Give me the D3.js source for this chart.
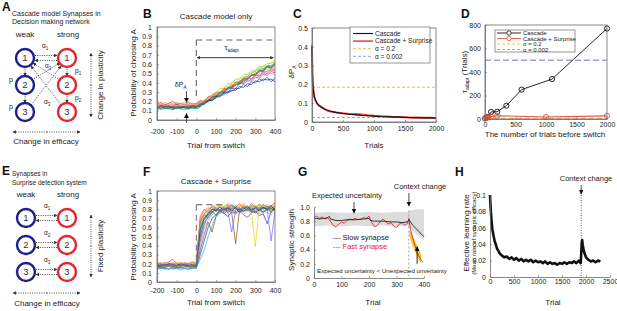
<!DOCTYPE html>
<html><head><meta charset="utf-8">
<script src="https://cdn.jsdelivr.net/npm/d3@7"></script>
<style>
body{margin:0;background:#fff}
svg{display:block;font-family:"Liberation Sans",Arial,sans-serif}
</style></head><body>
<svg id="c" width="617" height="311"></svg>
<script>
// ================= DATA =================
// Panels B & F: trial from switch (every 20 trials) and single-run P(choose A) in percent
const trialsBF = [-200,-180,-160,-140,-120,-100,-80,-60,-40,-20,0,20,40,60,80,100,120,140,160,180,200,220,240,260,280,300,320,340,360,380,400];
const bLines = [
 [17,19,16,18,20,17,18,16,19,17,18,21,20,25,26,30,29,34,33,38,37,42,41,45,44,48,47,51,50,54,53],
 [14,16,13,15,14,16,14,15,13,16,15,16,20,21,25,26,29,30,34,35,38,39,43,44,48,49,53,54,58,57,61],
 [13,15,12,14,13,12,14,13,12,14,13,17,17,21,21,24,27,27,31,31,34,34,38,36,41,40,44,42,46,41,45],
 [12,11,13,12,11,13,12,11,12,13,12,14,19,20,25,25,30,31,35,36,41,41,46,47,51,52,56,55,59,58,63],
 [16,14,17,15,16,17,15,17,16,15,17,19,20,24,24,29,29,33,33,36,37,40,40,45,44,49,48,52,52,55,55],
 [15,17,14,16,15,14,17,16,15,17,15,18,19,24,25,30,30,35,36,40,41,45,45,50,50,54,54,58,58,62,62],
 [13,14,13,12,15,13,14,15,14,13,14,15,19,20,24,25,29,29,34,34,38,39,43,43,48,48,52,52,57,56,60],
 [14,16,15,16,14,17,15,14,16,15,16,18,18,22,22,26,26,30,30,34,34,39,39,42,42,46,45,49,48,52,51],
 [18,16,19,17,18,19,17,19,18,17,18,20,20,24,25,29,29,33,34,38,38,42,43,47,47,51,51,55,54,57,57],
 [12,14,12,13,11,13,12,14,12,13,12,14,18,19,23,24,28,29,34,34,38,39,44,44,48,49,53,53,58,58,61],
 [16,18,15,16,17,15,18,17,16,18,16,19,19,23,24,28,28,32,32,37,37,41,41,45,45,48,47,51,50,50,49],
 [15,13,16,15,16,14,16,15,15,14,16,17,22,23,28,29,34,34,39,39,44,44,49,49,53,53,58,57,61,61,65],
 [14,12,15,14,13,14,13,14,13,15,14,17,17,21,21,25,25,29,29,32,32,36,35,39,38,42,41,44,43,44,41],
 [13,15,14,15,12,14,14,13,15,14,14,15,20,21,25,26,30,31,35,35,40,40,45,45,49,49,54,53,57,56,59]
];
const fLines = [
 [20,21,19,22,25,20,19,21,20,22,21,68,75,80,82,78,84,80,83,85,82,79,84,81,86,83,80,85,82,84,87],
 [18,19,20,18,19,20,19,18,20,19,18,55,70,76,79,82,78,80,77,81,84,80,78,82,79,83,81,77,80,82,79],
 [15,16,15,14,16,15,16,15,14,16,15,30,45,60,70,74,78,76,72,77,75,79,74,71,76,78,73,75,64,77,80],
 [14,15,14,15,14,15,13,15,14,15,16,25,35,50,62,72,76,79,82,80,83,78,81,84,80,82,79,83,81,78,82],
 [19,18,20,19,21,19,18,20,19,21,20,72,80,76,84,81,79,83,85,80,82,86,81,78,84,82,80,85,83,81,84],
 [22,20,21,19,20,22,21,20,19,21,22,60,72,78,75,80,83,79,82,77,80,84,79,82,78,39,84,80,82,82,80],
 [17,18,17,19,18,17,18,19,17,18,19,50,68,74,78,73,80,77,82,79,76,81,78,80,83,76,79,82,80,77,81],
 [18,17,19,18,17,18,19,17,18,17,18,65,74,70,77,81,78,82,79,84,81,78,83,80,77,82,85,81,79,83,80],
 [21,20,22,20,21,19,22,20,21,20,21,70,78,82,79,85,82,80,84,81,78,83,86,82,79,84,81,85,82,80,83],
 [16,15,16,17,15,16,15,16,17,15,16,45,62,72,76,80,77,81,79,83,80,77,82,79,81,78,82,80,83,79,81],
 [18,19,18,17,19,18,17,19,18,17,18,40,58,68,74,78,75,79,76,80,77,79,74,78,76,80,75,78,76,74,77],
 [20,19,21,20,19,21,20,19,20,21,20,62,74,79,83,80,85,82,87,84,81,86,83,80,84,82,86,83,85,82,86],
 [17,19,18,20,19,18,20,19,18,19,18,58,70,75,80,78,82,79,81,78,82,76,80,83,79,81,78,82,80,84,79],
 [16,17,16,18,17,16,17,18,16,17,17,35,52,66,55,72,78,75,79,76,42,80,77,81,78,76,80,77,79,81,78],
 [19,20,18,19,20,18,19,20,19,18,19,48,64,73,77,80,78,81,77,55,79,82,78,80,77,81,79,76,80,45,78]
];
const runColors = ["#e3262e","#2ca02c","#1f3fbf","#17becf","#d62ee0","#e6d200","#0b7a3a","#7b3294","#ff8c1a","#1a9e9e","#f781bf","#9bd42e","#0a2a8a","#8c510a","#6a6aff"];
const targetLevelB = 0.86, targetLevelF = 0.85;

// Panel C
const cTrials = [0,5,10,20,30,40,60,80,100,150,200,250,300,400,500,600,700,800,900,1000,1100,1200,1300,1400,1500,1600,1700,1800,1900,2000];
const cCascade = [.41,.30,.23,.17,.15,.13,.115,.10,.092,.078,.068,.062,.057,.050,.045,.041,.038,.035,.033,.031,.029,.028,.027,.026,.025,.024,.023,.022,.022,.021];
const cSurprise = [.40,.29,.22,.18,.15,.13,.11,.10,.09,.08,.07,.061,.056,.05,.046,.043,.042,.040,.036,.033,.031,.029,.026,.027,.025,.023,.024,.022,.023,.020];
const cAlpha02 = 0.185, cAlpha0002 = 0.024;

// Panel D
const dTrialsCascade = [0,25,50,100,200,350,600,1100,2000];
const dCascade = [5,10,18,60,62,113,250,340,770];
const dTrialsSurprise = [0,25,50,100,200,1000,2000];
const dSurprise = [5,10,15,20,28,17,27];
const dAlpha02 = 5, dAlpha0002 = 500;

// Panel G
const gBandX = [0,50,100,150,200,250,300,340,350,370,400];
const gBandHi = [.92,.93,.92,.92,.93,.92,.93,.93,.95,.97,.97];
const gBandLo = [.73,.74,.73,.74,.73,.74,.73,.74,.70,.62,.53];
const gSlowX = [0,10,20,30,40,50,55,60,80,100,120,150,180,200,205,220,250,280,300,320,340,345,360,380,400];
const gSlow = [.83,.84,.83,.84,.84,.85,.87,.83,.81,.81,.82,.82,.83,.84,.81,.80,.80,.79,.79,.78,.79,.82,.74,.66,.58];
const gFastX = [0,10,20,30,40,50,60,70,80,90,100,110,120,130,140,150,160,170,180,190,200,210,220,230,240,250,260,270,280,290,300,310,320,330,340,345,350,360,370,380,390,397];
const gFast = [.85,.87,.84,.86,.83,.85,.80,.74,.72,.76,.79,.77,.81,.83,.82,.84,.82,.83,.85,.84,.87,.78,.72,.74,.79,.83,.80,.76,.78,.73,.71,.76,.78,.74,.77,.84,.70,.55,.42,.32,.25,.22];
const gYellowX = [348,360,375,388];
const gYellowHi = [.66,.56,.44,.33];
const gYellowLo = [.60,.46,.32,.22];
const gContext = 345;

// Panel H
const hX = [0,10,20,30,40,50,75,100,125,150,175,200,250,300,350,400,450,500,550,600,650,700,750,800,850,900,950,1000,1050,1100,1150,1200,1250,1300,1350,1400,1450,1500,1550,1600,1650,1700,1750,1800,1850,1875,1890,1900,1910,1920,1930,1950,1975,2000,2050,2100,2150,2200,2250,2300];
const hY = [.100,.088,.078,.070,.064,.058,.050,.043,.039,.034,.032,.029,.026,.024,.025,.022,.024,.021,.023,.020,.022,.019,.021,.019,.021,.018,.020,.018,.019,.017,.019,.016,.018,.016,.017,.015,.017,.016,.018,.016,.018,.017,.019,.017,.020,.018,.017,.028,.040,.045,.040,.033,.028,.024,.021,.019,.020,.018,.020,.019];
const hContext = 1900;

// ================= DRAW =================
const svg = d3.select("#c");
const AX = "#6b6b6b";
const defs = svg.append("defs");
function marker(id, color, w){
  defs.append("marker").attr("id",id).attr("viewBox","0 0 10 10").attr("refX",9).attr("refY",5)
    .attr("markerUnits","userSpaceOnUse").attr("markerWidth",w).attr("markerHeight",w)
    .attr("orient","auto-start-reverse").append("path").attr("d","M0,0L10,5L0,10z").attr("fill",color);
}
marker("ah","#111",5); marker("ahs","#333",3.5);

function txt(g,x,y,s,o={}){
  const t=g.append("text").attr("x",x).attr("y",y).text(s)
    .attr("font-size",o.size||8).attr("fill",o.fill||"#222")
    .attr("text-anchor",o.anchor||"start");
  if(o.bold) t.attr("font-weight","bold");
  if(o.rot) t.attr("transform",`rotate(-90,${x},${y})`);
  return t;
}
function letter(s,x,y){ txt(svg,x,y,s,{size:12,bold:true,fill:"#111"}); }

function axes(x,y,o){
  const g=svg.append("g");
  const [x0,x1]=x.range(), [y0,y1]=y.range();
  if(o.box){
    g.append("rect").attr("x",x0).attr("y",y1).attr("width",x1-x0).attr("height",y0-y1)
      .attr("fill","none").attr("stroke",AX).attr("stroke-width",0.8);
  }
  const xa=d3.axisBottom(x).tickValues(o.xt).tickFormat(o.xf||(d=>d)).tickSizeInner(-2).tickSizeOuter(0).tickPadding(o.xp);
  const ya=d3.axisLeft(y).tickValues(o.yt).tickFormat(o.yf||(d=>d)).tickSizeInner(-2).tickSizeOuter(0).tickPadding(o.yp);
  const gx=g.append("g").attr("transform",`translate(0,${y0})`).call(xa);
  const gy=g.append("g").attr("transform",`translate(${x0},0)`).call(ya);
  [gx,gy].forEach(a=>{
    a.select(".domain").attr("stroke",AX).attr("stroke-width",0.8);
    a.selectAll(".tick line").attr("stroke",AX).attr("stroke-width",0.6);
    a.selectAll("text").attr("font-size",7).attr("fill","#222").attr("font-family",'"Liberation Sans",Arial,sans-serif');
  });
  return g;
}
function clip(id,x,y){
  defs.append("clipPath").attr("id",id).append("rect")
    .attr("x",x.range()[0]).attr("y",y.range()[1])
    .attr("width",x.range()[1]-x.range()[0]).attr("height",y.range()[0]-y.range()[1]);
}
function arrow(g,x1,y1,x2,y2,o={}){
  const l=g.append("line").attr("x1",x1).attr("y1",y1).attr("x2",x2).attr("y2",y2)
    .attr("stroke",o.color||"#222").attr("stroke-width",o.w||0.8)
    .attr("marker-end",`url(#${o.m||"ahs"})`);
  if(o.dash) l.attr("stroke-dasharray",o.dash);
  if(o.both) l.attr("marker-start",`url(#${o.m||"ahs"})`);
  return l;
}
const pct = d3.format(".1f");
const f01 = d=> d===0?"0":(d===1?"1":pct(d));

// ---------- Panel A ----------
(function(){
  const g=svg.append("g");
  letter("A",2,11);
  txt(g,12,16,"Cascade model Synapses in",{size:7});
  txt(g,12,24,"Decision making network",{size:7});
  txt(g,25,37,"weak",{anchor:"middle"});
  txt(g,68,37,"strong",{anchor:"middle"});
  const ys=[58,85,112];
  const dot="1,1.3";
  arrow(g,35,55.5,57,55.5,{dash:dot});
  arrow(g,57,60.5,35,60.5,{dash:dot});
  [[25,67,76],[25,94,103],[67,67,76],[67,94,103]].forEach(a=>arrow(g,a[0],a[1],a[0],a[2],{dash:dot}));
  arrow(g,60,80,33,63,{dash:dot});
  arrow(g,61,105,31,66,{dash:dot});
  arrow(g,32,80,60,63,{dash:dot});
  arrow(g,31,105,61,66,{dash:dot});
  ys.forEach((y,i)=>{
    [[25,"#1c1f8c"],[67,"#e3262e"]].forEach(([x,c])=>{
      g.append("circle").attr("cx",x).attr("cy",y).attr("r",9).attr("fill","#fff").attr("stroke",c).attr("stroke-width",2.4);
      txt(g,x,y+3.3,String(i+1),{size:9.5,anchor:"middle",fill:"#333"});
    });
  });
  const sub=(x,y,a,b)=>{const t=txt(g,x,y,a,{size:6.5}); t.append("tspan").attr("dy",1.5).attr("font-size",4.5).text(b);};
  sub(42,48,"α","1"); sub(45,68,"α","2"); sub(44,104,"α","3");
  txt(g,9,82,"p",{size:7}); txt(g,9,109,"p",{size:7});
  sub(75,73,"p","1"); sub(75,100,"p","2");
  arrow(g,91,85,91,53,{dash:dot});
  arrow(g,91,85,91,117,{dash:dot});
  txt(g,103,85,"Change in plasticity",{rot:true,anchor:"middle",size:8});
  arrow(g,47,132,13,132,{dash:dot});
  arrow(g,47,132,80,132,{dash:dot});
  txt(g,46,144,"Change in efficacy",{anchor:"middle",size:8});
})();

// ---------- Panel E ----------
(function(){
  const g=svg.append("g");
  letter("E",2,175);
  txt(g,12,176,"Synapses in",{size:6.5});
  txt(g,12,184.5,"Surprise detection system",{size:6.5});
  txt(g,26,197,"weak",{anchor:"middle"});
  txt(g,68,197,"strong",{anchor:"middle"});
  const ys=[218,245,272];
  const dot="1,1.3";
  ys.forEach((y,i)=>{
    arrow(g,36,y-2.5,57,y-2.5,{dash:dot});
    arrow(g,57,y+2.5,36,y+2.5,{dash:dot});
    const t=txt(g,44,y-10,"α",{size:6.5}); t.append("tspan").attr("dy",1.5).attr("font-size",4.5).text(String(i+1));
    [[26,"#1c1f8c"],[67,"#e3262e"]].forEach(([x,c])=>{
      g.append("circle").attr("cx",x).attr("cy",y).attr("r",9).attr("fill","#fff").attr("stroke",c).attr("stroke-width",2.4);
      txt(g,x,y+3.3,String(i+1),{size:9.5,anchor:"middle",fill:"#333"});
    });
  });
  arrow(g,91,246,91,215,{dash:dot});
  arrow(g,91,246,91,277,{dash:dot});
  txt(g,103,246,"Fixed plasticity",{rot:true,anchor:"middle",size:8});
  arrow(g,47,293,13,293,{dash:dot});
  arrow(g,47,293,80,293,{dash:dot});
  txt(g,47,306,"Change in efficacy",{anchor:"middle",size:8});
})();

// ---------- Panel B ----------
(function(){
  letter("B",143,18);
  const x=d3.scaleLinear().domain([-200,400]).range([157,275]);
  const y=d3.scaleLinear().domain([0,1]).range([120,27]);
  clip("clipB",x,y);
  const g=svg.append("g").attr("clip-path","url(#clipB)");
  const line=d3.line().x((d,i)=>x(trialsBF[i])).y(d=>y(d/100));
  bLines.forEach((L,i)=>g.append("path").attr("d",line(L)).attr("fill","none").attr("stroke",runColors[i%runColors.length]).attr("stroke-width",0.7));
  axes(x,y,{box:true,xt:[-200,-100,0,100,200,300,400],yt:d3.range(0,1.01,0.1).map(v=>+v.toFixed(1)),yf:f01,xp:9,yp:5});
  const a=svg.append("g");
  a.append("line").attr("x1",x(0)).attr("x2",x(0)).attr("y1",y(targetLevelB)).attr("y2",y(0.24)).attr("stroke","#666").attr("stroke-width",1.1).attr("stroke-dasharray","6,4");
  a.append("line").attr("x1",x(0)).attr("x2",x(400)).attr("y1",y(targetLevelB)).attr("y2",y(targetLevelB)).attr("stroke","#666").attr("stroke-width",1.1).attr("stroke-dasharray","6,4");
  arrow(a,x(195),y(0.67),x(4),y(0.67),{m:"ahs",w:0.9});
  arrow(a,x(195),y(0.67),x(392),y(0.67),{m:"ahs",w:0.9});
  const t=txt(a,x(180),y(0.75),"τ",{size:7.5,anchor:"middle"}); t.append("tspan").attr("dy",1.8).attr("font-size",4.5).text("adapt");
  const d=txt(a,x(-80),y(0.35),"δP",{size:7,anchor:"middle"}); d.append("tspan").attr("dy",1.8).attr("font-size",4.5).text("A");
  arrow(a,x(-50),y(0.31),x(-50),y(0.19),{m:"ah",w:0.8});
  arrow(a,x(-50),y(-0.03),x(-50),y(0.07),{m:"ah",w:0.8});
  txt(svg,216,18.5,"Cascade model only",{anchor:"middle",size:8});
  txt(svg,216,148,"Trial from switch",{anchor:"middle",size:8});
  txt(svg,136,73,"Probability of choosing A",{rot:true,anchor:"middle",size:8});
})();

// ---------- Panel F ----------
(function(){
  letter("F",143,176);
  const x=d3.scaleLinear().domain([-200,400]).range([157,275]);
  const y=d3.scaleLinear().domain([0,1]).range([282,191]);
  clip("clipF",x,y);
  const g=svg.append("g").attr("clip-path","url(#clipF)");
  const line=d3.line().x((d,i)=>x(trialsBF[i])).y(d=>y(d/100));
  fLines.forEach((L,i)=>g.append("path").attr("d",line(L)).attr("fill","none").attr("stroke",runColors[i%runColors.length]).attr("stroke-width",0.7));
  axes(x,y,{box:true,xt:[-200,-100,0,100,200,300,400],yt:d3.range(0,1.01,0.1).map(v=>+v.toFixed(1)),yf:f01,xp:6,yp:5});
  const a=svg.append("g");
  a.append("line").attr("x1",x(0)).attr("x2",x(0)).attr("y1",y(targetLevelF)).attr("y2",y(0.24)).attr("stroke","#777").attr("stroke-width",1.1).attr("stroke-dasharray","6,4");
  a.append("line").attr("x1",x(0)).attr("x2",x(140)).attr("y1",y(targetLevelF)).attr("y2",y(targetLevelF)).attr("stroke","#777").attr("stroke-width",1.1).attr("stroke-dasharray","6,4");
  txt(svg,216,184,"Cascade + Surprise",{anchor:"middle",size:8});
  txt(svg,216,305,"Trial from switch",{anchor:"middle",size:8});
  txt(svg,136,237,"Probability of choosing A",{rot:true,anchor:"middle",size:8});
})();

// ---------- Panel C ----------
(function(){
  letter("C",293,18);
  const x=d3.scaleLinear().domain([0,2000]).range([312,436]);
  const y=d3.scaleLinear().domain([0,0.5]).range([122,28]);
  const g=svg.append("g");
  const l=(X)=>d3.line().x((d,i)=>x(X[i])).y(d=>y(d));
  g.append("line").attr("x1",x(0)).attr("x2",x(2000)).attr("y1",y(cAlpha02)).attr("y2",y(cAlpha02)).attr("stroke","#f0b65a").attr("stroke-width",1).attr("stroke-dasharray","3,2");
  g.append("line").attr("x1",x(0)).attr("x2",x(2000)).attr("y1",y(cAlpha0002)).attr("y2",y(cAlpha0002)).attr("stroke","#a89ad6").attr("stroke-width",1).attr("stroke-dasharray","3,2");
  g.append("path").attr("d",l(cTrials)(cSurprise)).attr("fill","none").attr("stroke","#e8433f").attr("stroke-width",2);
  g.append("path").attr("d",l(cTrials)(cCascade)).attr("fill","none").attr("stroke","#111").attr("stroke-width",1.1);
  axes(x,y,{box:true,xt:[0,500,1000,1500,2000],yt:[0,0.1,0.2,0.3,0.4,0.5],yf:d=>d===0?"0":pct(d),xp:4,yp:4});
  const lg=svg.append("g");
  lg.append("rect").attr("x",350).attr("y",27).attr("width",80).attr("height",36).attr("fill","#fff").attr("stroke",AX).attr("stroke-width",0.7);
  const items=[["Cascade","#111",null,1.1],["Cascade + Surprise","#e8433f",null,1.5],["α = 0.2","#f0b65a","3,2",1],["α = 0.002","#a89ad6","3,2",1]];
  items.forEach((it,i)=>{
    const yy=33.5+i*7.6;
    const ln=lg.append("line").attr("x1",353).attr("x2",373).attr("y1",yy).attr("y2",yy).attr("stroke",it[1]).attr("stroke-width",it[3]);
    if(it[2]) ln.attr("stroke-dasharray",it[2]);
    txt(lg,375,yy+2.3,it[0],{size:6.5});
  });
  txt(svg,374,148,"Trials",{anchor:"middle",size:8});
  const t=txt(svg,294,72,"δP",{rot:true,anchor:"middle",size:8}); t.append("tspan").attr("dy",2).attr("font-size",5).text("A");
})();

// ---------- Panel D ----------
(function(){
  letter("D",461,18);
  const x=d3.scaleLinear().domain([0,2000]).range([485,607]);
  const y=d3.scaleLinear().domain([0,800]).range([119,25]);
  const g=svg.append("g");
  g.append("line").attr("x1",x(0)).attr("x2",x(2000)).attr("y1",y(dAlpha02)).attr("y2",y(dAlpha02)).attr("stroke","#f5c36b").attr("stroke-width",1.5).attr("stroke-dasharray","5,3");
  g.append("line").attr("x1",x(0)).attr("x2",x(2000)).attr("y1",y(dAlpha0002)).attr("y2",y(dAlpha0002)).attr("stroke","#a89ad6").attr("stroke-width",1.5).attr("stroke-dasharray","6,3");
  const l=(X)=>d3.line().x((d,i)=>x(X[i])).y(d=>y(d));
  g.append("path").attr("d",l(dTrialsCascade)(dCascade)).attr("fill","none").attr("stroke","#111").attr("stroke-width",0.9);
  dCascade.forEach((v,i)=>g.append("circle").attr("cx",x(dTrialsCascade[i])).attr("cy",y(v)).attr("r",2.6).attr("fill","none").attr("stroke","#111").attr("stroke-width",0.9));
  g.append("path").attr("d",l(dTrialsSurprise)(dSurprise)).attr("fill","none").attr("stroke","#e8533f").attr("stroke-width",1.1);
  dSurprise.forEach((v,i)=>g.append("circle").attr("cx",x(dTrialsSurprise[i])).attr("cy",y(v)).attr("r",2.6).attr("fill","none").attr("stroke","#e8533f").attr("stroke-width",0.9));
  axes(x,y,{box:true,xt:[0,500,1000,1500,2000],yt:[0,200,400,600,800],xp:3,yp:4});
  const lg=svg.append("g");
  lg.append("rect").attr("x",495).attr("y",30).attr("width",80).attr("height",22).attr("fill","#fff").attr("stroke",AX).attr("stroke-width",0.7);
  const items=[["Cascade","#111",null,true],["Cascade + Surprise","#e8533f",null,true],["α = 0.2","#f5c36b","3,2",false],["α = 0.002","#a89ad6","3,2",false]];
  items.forEach((it,i)=>{
    const yy=33+i*5.5;
    const ln=lg.append("line").attr("x1",497).attr("x2",521).attr("y1",yy).attr("y2",yy).attr("stroke",it[1]).attr("stroke-width",it[2]?1.2:0.9);
    if(it[2]) ln.attr("stroke-dasharray",it[2]);
    if(it[3]) lg.append("circle").attr("cx",509).attr("cy",yy).attr("r",2.2).attr("fill","#fff").attr("stroke",it[1]).attr("stroke-width",0.8);
    txt(lg,523,yy+2,it[0],{size:6});
  });
  txt(svg,545,137,"The number of trials before switch",{anchor:"middle",size:8});
  const t=txt(svg,467,72,"τ",{rot:true,anchor:"middle",size:8});
  t.append("tspan").attr("dy",2).attr("font-size",5).text("adapt");
  t.append("tspan").attr("dy",-2).text(" (Trials)");
})();

// ---------- Panel G ----------
(function(){
  letter("G",298,176);
  const x=d3.scaleLinear().domain([0,400]).range([314,424]);
  const y=d3.scaleLinear().domain([0,1]).range([278,207]);
  const g=svg.append("g");
  const area=(X,lo,hi)=>d3.area().x((d,i)=>x(X[i])).y0((d,i)=>y(lo[i])).y1(d=>y(d));
  g.append("path").attr("d",area(gBandX,gBandLo)(gBandHi)).attr("fill","#dcdcdc");
  g.append("line").attr("x1",x(gContext)).attr("x2",x(gContext)).attr("y1",y(0.95)).attr("y2",y(0)).attr("stroke","#888").attr("stroke-width",0.8).attr("stroke-dasharray","2,2");
  g.append("path").attr("d",area(gYellowX,gYellowLo)(gYellowHi)).attr("fill","#ffd000").attr("stroke","#f39c12").attr("stroke-width",0.6);
  const l=(X)=>d3.line().x((d,i)=>x(X[i])).y(d=>y(d));
  g.append("path").attr("d",l(gFastX)(gFast)).attr("fill","none").attr("stroke","#e3262e").attr("stroke-width",0.9);
  g.append("path").attr("d",l(gSlowX)(gSlow)).attr("fill","none").attr("stroke","#222").attr("stroke-width",0.9);
  arrow(g,x(375),y(0.2),x(375),y(0.44),{m:"ah",w:0.9,color:"#111"});
  axes(x,y,{box:false,xt:[0,100,200,300,400],yt:[0,0.2,0.4,0.6,0.8,1.0],yf:d=>d===0?"0":pct(d),xp:4,yp:4});
  txt(svg,312,198,"Expected uncertainty",{size:7.5});
  arrow(svg,354,202,354,213,{m:"ah",w:0.8});
  txt(svg,420,189,"Context change",{size:7.5,anchor:"middle"});
  arrow(svg,x(gContext),193,x(gContext),206,{m:"ah",w:0.8});
  txt(svg,333,240,"--- Slow synapse",{size:7.5,fill:"#222"});
  txt(svg,333,248.5,"--- Fast synapse",{size:7.5,fill:"#e3262e"});
  txt(svg,317,273,"Expected uncertainty < Unexpected unvertainty",{size:6.2});
  txt(svg,373,305,"Trial",{anchor:"middle",size:8});
  txt(svg,294,240,"Synaptic strength",{rot:true,anchor:"middle",size:8});
})();

// ---------- Panel H ----------
(function(){
  letter("H",455,176);
  const x=d3.scaleLinear().domain([0,2500]).range([490,610]);
  const y=d3.scaleLinear().domain([0,0.1]).range([277,195]);
  const g=svg.append("g");
  g.append("line").attr("x1",x(hContext)).attr("x2",x(hContext)).attr("y1",y(0.1)).attr("y2",y(0)).attr("stroke","#333").attr("stroke-width",0.8).attr("stroke-dasharray","1,1.5");
  g.append("path").attr("d",d3.line().x((d,i)=>x(hX[i])).y(d=>y(d))(hY)).attr("fill","none").attr("stroke","#111").attr("stroke-width",2.6).attr("stroke-linejoin","round");
  axes(x,y,{box:false,xt:[0,500,1000,1500,2000,2500],yt:[0,0.02,0.04,0.06,0.08,0.1],yf:d=>d===0?"0":(d===0.1?"0.1":d3.format(".2f")(d)),xp:2,yp:4});
  txt(svg,586,181,"Context change",{size:7.5,anchor:"middle"});
  arrow(svg,x(hContext),185,x(hContext),194,{m:"ah",w:0.8});
  txt(svg,553,305,"Trial",{anchor:"middle",size:8});
  txt(svg,469,233,"Effective learning rate",{rot:true,anchor:"middle",size:8});
  txt(svg,476,233,"(Mean rate of synaptic efficacy)",{rot:true,anchor:"middle",size:6});
})();
</script>
</body></html>
